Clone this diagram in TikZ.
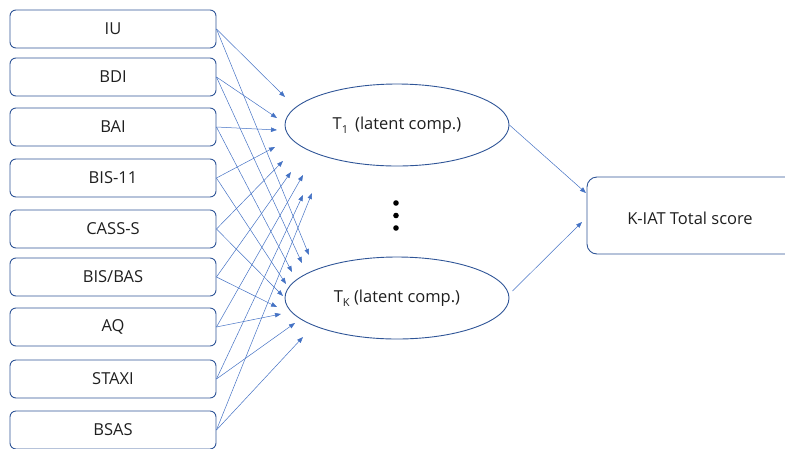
\documentclass[tikz,border=0pt]{standalone}
\usepackage{fontspec}
\setmainfont{Open Sans}
\usetikzlibrary{arrows.meta,shapes.geometric}
\definecolor{bord}{HTML}{2F5597}
\definecolor{lin}{HTML}{4472C4}
\newcommand{\lowsub}[1]{\raisebox{-0.45ex}{\fontsize{11}{12}\selectfont #1}}
\tikzset{
  lbl/.style={font=\fontsize{16.5}{19}\selectfont, text=black!88},
  inbox/.style={lbl, draw=bord, line width=0.9pt, rounded corners=6pt, minimum width=206pt, minimum height=38pt, inner sep=0pt},
  latent/.style={lbl, draw=bord, line width=0.9pt, ellipse, minimum width=224pt, minimum height=82pt, inner sep=0pt},
  conn/.style={draw=lin, line width=0.5pt, -{Triangle[length=6pt,width=4.5pt]}},
}
\begin{document}
\begin{tikzpicture}[x=1pt,y=-1pt]
\useasboundingbox (0,0) rectangle (785,448);
\node[inbox] (b1) at (113,29) {IU};
\node[inbox] (b2) at (113,77) {BDI};
\node[inbox] (b3) at (113,127) {BAI};
\node[inbox] (b4) at (113,178) {BIS-11};
\node[inbox] (b5) at (113,229) {CASS-S};
\node[inbox] (b6) at (113,277) {BIS/BAS};
\node[inbox] (b7) at (113,327) {AQ};
\node[inbox] (b8) at (113,379) {STAXI};
\node[inbox] (b9) at (113,430) {BSAS};
\node[latent] (t1) at (397,125) {T\lowsub{1}\, (latent comp.)};
\node[latent] (tk) at (397,298) {T\lowsub{K} (latent comp.)};
\node[draw=bord, line width=0.9pt, rounded corners=10pt, minimum width=208pt, minimum height=77pt, inner sep=0pt] (out) at (691,215.5) {};
\node[lbl] (outt) at (690,218) {K-IAT Total score};
\fill (396,203) circle (2.8pt);
\fill (396,215.5) circle (2.8pt);
\fill (396,228) circle (2.8pt);
% endpoints near T1
\coordinate (a1) at (285,97);
\coordinate (a2) at (277,118);
\coordinate (a3) at (277,130);
\coordinate (a4) at (275,147);
\coordinate (a5) at (283,161);
\coordinate (a6) at (291,172);
\coordinate (a7) at (303,175);
\coordinate (a8) at (303,195);
\coordinate (a9) at (312,193);
% endpoints near TK
\coordinate (k1) at (309,255);
\coordinate (k2) at (302,263);
\coordinate (k3) at (292,272);
\coordinate (k4) at (286,284);
\coordinate (k5) at (283,296);
\coordinate (k6) at (277,307);
\coordinate (k7) at (281,314);
\coordinate (k8) at (295,323);
\coordinate (k9) at (303,337);
\foreach \i in {1,...,9}{
  \draw[conn] (b\i.east) -- (a\i);
  \draw[conn] (b\i.east) -- (k\i);
}
\coordinate (o1) at (586,193);
\coordinate (o2) at (582,222);
\draw[conn] (t1.east) -- (o1);
\draw[conn] ([shift={(3,-7)}]tk.east) -- (o2);
\end{tikzpicture}
\end{document}
